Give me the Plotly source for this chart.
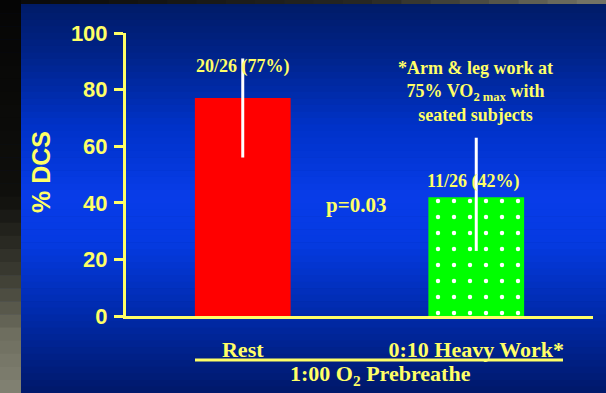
import plotly.graph_objects as go

# Data
categories = ["Rest", "0:10 Heavy Work*"]
dcs_pct = [77, 42]
ci_plus = [14, 21]
ci_minus = [21, 19]
bar_labels = ["20/26 (77%)", "11/26 (42%)"]
y_ticks = [0, 20, 40, 60, 80, 100]

W, H = 606, 393
ML, MR, MT, MB = 126, 13, 33, 77
PW, PH = W - ML - MR, H - MT - MB

YELLOW = "#FFFF66"
SERIF = "Liberation Serif, Times New Roman, serif"
SANS = "Liberation Sans, Arial, sans-serif"


def px_x(px):
    return (px - ML) / PW


def px_y(py):
    return (H - MB - py) / PH


def lerp_color(stops, t):
    for (t0, c0), (t1, c1) in zip(stops, stops[1:]):
        if t0 <= t <= t1:
            f = (t - t0) / (t1 - t0) if t1 > t0 else 0
            return "rgb(%d,%d,%d)" % tuple(round(a + (b - a) * f) for a, b in zip(c0, c1))
    return "rgb(%d,%d,%d)" % stops[-1][1]


shapes = []

# blue slide background, brightest in the middle
blue_stops = [(0, (0, 26, 100)), (0.15, (0, 36, 140)), (0.32, (0, 50, 200)),
              (0.5, (8, 60, 232)), (0.62, (5, 58, 225)), (0.8, (0, 42, 170)),
              (1.0, (0, 24, 105))]
nb = 60
for i in range(nb):
    y0, y1 = H * i / nb, H * (i + 1) / nb + 0.5
    shapes.append(dict(type="rect", xref="paper", yref="paper", layer="below",
                       x0=px_x(21), x1=px_x(W), y0=px_y(y1), y1=px_y(y0),
                       line=dict(width=0),
                       fillcolor=lerp_color(blue_stops, (i + 0.5) / nb)))

# dark photo strip at the left edge and top edge
side_stops = [(0, (5, 5, 5)), (0.5, (15, 15, 12)), (0.7, (60, 60, 50)),
              (0.85, (110, 110, 95)), (1.0, (130, 130, 115))]
ns = 30
for i in range(ns):
    y0, y1 = H * i / ns, H * (i + 1) / ns + 0.5
    shapes.append(dict(type="rect", xref="paper", yref="paper", layer="below",
                       x0=px_x(0), x1=px_x(21), y0=px_y(y1), y1=px_y(y0),
                       line=dict(width=0),
                       fillcolor=lerp_color(side_stops, (i + 0.5) / ns)))
top_stops = [(0, (10, 10, 10)), (0.6, (40, 40, 35)), (1.0, (120, 120, 105))]
nt = 20
for i in range(nt):
    x0, x1 = 21 + (W - 21) * i / nt, 21 + (W - 21) * (i + 1) / nt + 0.5
    shapes.append(dict(type="rect", xref="paper", yref="paper", layer="below",
                       x0=px_x(x0), x1=px_x(x1), y0=px_y(4), y1=px_y(0),
                       line=dict(width=0),
                       fillcolor=lerp_color(top_stops, (i + 0.5) / nt)))

# underline beneath the condition labels
shapes.append(dict(type="line", xref="paper", yref="paper",
                   x0=px_x(195), x1=px_x(563), y0=px_y(360), y1=px_y(360),
                   line=dict(color=YELLOW, width=3)))

fig = go.Figure()
bar_styles = [
    dict(color="#FF0000", line=dict(width=0)),
    dict(color="#00FF00", line=dict(width=0),
         pattern=dict(shape=".", fgcolor="white", fgopacity=1, size=16,
                      solidity=0.06, fillmode="overlay")),
]
for i in range(len(categories)):
    fig.add_trace(go.Bar(
        x=[i], y=[dcs_pct[i]], width=0.41, marker=bar_styles[i],
        error_y=dict(type="data", symmetric=False, array=[ci_plus[i]],
                     arrayminus=[ci_minus[i]], color="white", thickness=3, width=0),
        hoverinfo="skip",
    ))

annotations = [
    dict(x=0, y=88, text=bar_labels[0]),
    dict(x=0.99, y=47.7, text=bar_labels[1]),
    dict(x=0.996, y=79.5,
         text="*Arm & leg work at<br>75% VO<sub>2 max</sub> with<br>seated subjects"),
]
annotations = [dict(a, xref="x", yref="y", showarrow=False,
                    xanchor="center", yanchor="middle",
                    font=dict(family=SERIF, size=18, color=YELLOW, weight="bold"))
               for a in annotations]
annotations.append(dict(x=0.485, y=39.2, xref="x", yref="y", showarrow=False,
                        xanchor="center", yanchor="middle", text="p=0.03",
                        font=dict(family=SERIF, size=21, color=YELLOW, weight="bold")))
annotations.append(dict(x=px_x(380), y=px_y(375), xref="paper", yref="paper",
                        xanchor="center", yanchor="middle",
                        showarrow=False, text="1:00 O<sub>2</sub> Prebreathe",
                        font=dict(family=SERIF, size=22, color=YELLOW, weight="bold")))
annotations.append(dict(x=px_x(41), y=px_y(172), xref="paper", yref="paper",
                        xanchor="center", yanchor="middle",
                        showarrow=False, text="% DCS", textangle=-90,
                        font=dict(family=SANS, size=25, color=YELLOW, weight="bold")))

fig.update_layout(
    width=W, height=H,
    margin=dict(l=ML, r=MR, t=MT, b=MB, pad=0),
    paper_bgcolor="#002080",
    plot_bgcolor="rgba(0,0,0,0)",
    barmode="overlay",
    showlegend=False,
    shapes=shapes,
    annotations=annotations,
    xaxis=dict(range=[-0.5, 1.5], tickvals=[0, 1], ticktext=categories,
               showgrid=False, zeroline=False, showline=True, linecolor=YELLOW,
               linewidth=3, ticks="", ticklabelstandoff=12,
               tickfont=dict(family=SERIF, size=22, color=YELLOW, weight="bold"),
               fixedrange=True),
    yaxis=dict(range=[0, 100], tickvals=y_ticks, showgrid=False, zeroline=False,
               showline=True, linecolor=YELLOW, linewidth=3,
               ticks="outside", ticklen=9, tickwidth=3, tickcolor=YELLOW,
               ticklabelstandoff=2,
               tickfont=dict(family=SANS, size=22, color=YELLOW, weight="bold"),
               fixedrange=True),
)

fig.write_html("out.html", config=dict(displayModeBar=False))
